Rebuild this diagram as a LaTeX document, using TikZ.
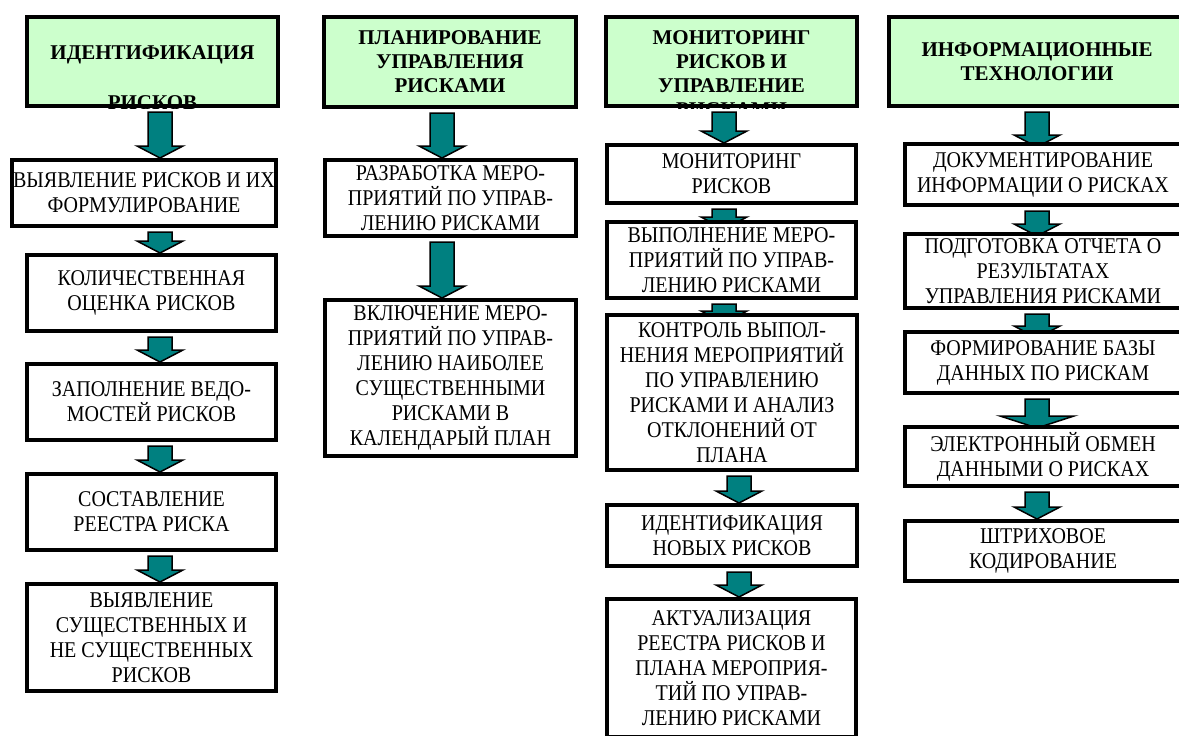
\documentclass[tikz,border=0pt]{standalone}
\usepackage{fontspec}
\setmainfont{Liberation Serif}[FakeStretch=0.89]
\newfontfamily\hdfont{Liberation Serif}
\usepackage{tikz}
\usetikzlibrary{calc,backgrounds}
\definecolor{hdgreen}{RGB}{204,255,204}
\definecolor{arrteal}{RGB}{0,128,128}

% block arrow: [head half-width]{x}{upper node}{lower node}{tip below lower.north}
\newcommand{\darr}[5][23]{%
  \path (#2,0 |- #3.south) coordinate (aT) (#2,0 |- #4.north) coordinate (aB);
  \filldraw[arrowfill] ($(aT)+(-12,4)$) -- ($(aT)+(12,4)$) -- ($(aB)+(12,#5-12)$)
    -- ($(aB)+(#1,#5-12)$) -- ($(aB)+(0,#5)$) -- ($(aB)+(-#1,#5-12)$)
    -- ($(aB)+(-12,#5-12)$) -- cycle;
}

\begin{document}
\begin{tikzpicture}[x=1pt, y=-1pt,
    font=\rmfamily\fontsize{22.5}{25}\selectfont,
    box/.style={draw, line width=4pt, fill=white, align=center, inner sep=0pt,
                execute at begin node={\rule{0pt}{21pt}}},
    head/.style={draw, line width=4pt, fill=hdgreen, align=center, inner sep=0pt},
    hfont/.style={font=\hdfont\fontsize{21}{24}\selectfont\bfseries},
    htext/.style={hfont, align=center, inner sep=0pt},
    arrowfill/.style={fill=arrteal, draw=black, line width=1.5pt, line join=miter},
  ]
  \useasboundingbox (0,0) rectangle (1179,736);
  \clip (0,0) rectangle (1179,736);

  % headers
  \node[head, minimum width=251pt, minimum height=89pt] (hdI) at (152.5,61.5) {};
  \begin{scope}
    \clip (hdI.south west) rectangle (hdI.north east);
    \node[htext] (txI) at (152.5,78) {ИДЕНТИФИКАЦИЯ\\[26pt]РИСКОВ};
  \end{scope}
  \node[head, hfont, minimum width=252pt, minimum height=90pt] (hdP) at (450,62) {ПЛАНИРОВАНИЕ\\УПРАВЛЕНИЯ\\РИСКАМИ};
  \node[head, minimum width=251pt, minimum height=89pt] (hdM) at (731.5,61.5) {};
  \begin{scope}
    \clip (hdM.south west) rectangle (hdM.north east);
    \node[htext] (txM) at (731.5,74) {МОНИТОРИНГ\\РИСКОВ И\\УПРАВЛЕНИЕ\\РИСКАМИ};
  \end{scope}
  \node[head, hfont, minimum width=296pt, minimum height=89pt] (hdT) at (1037,61.5) {ИНФОРМАЦИОННЫЕ\\ТЕХНОЛОГИИ};

  % column 1
  \node[box, minimum width=264pt, minimum height=66pt] (a1) at (144,193) {ВЫЯВЛЕНИЕ РИСКОВ И ИХ\\ФОРМУЛИРОВАНИЕ};
  \node[box, minimum width=249pt, minimum height=76pt] (a2) at (151.5,293) {КОЛИЧЕСТВЕННАЯ\\ОЦЕНКА РИСКОВ};
  \node[box, minimum width=249pt, minimum height=76pt] (a3) at (151.5,402) {ЗАПОЛНЕНИЕ ВЕДО-\\МОСТЕЙ РИСКОВ};
  \node[box, minimum width=249pt, minimum height=76pt] (a4) at (151.5,512) {СОСТАВЛЕНИЕ\\РЕЕСТРА РИСКА};
  \node[box, minimum width=249pt, minimum height=107pt] (a5) at (151.5,637.5) {ВЫЯВЛЕНИЕ\\СУЩЕСТВЕННЫХ И\\НЕ СУЩЕСТВЕННЫХ\\РИСКОВ};

  % column 2
  \node[box, minimum width=251pt, minimum height=76pt] (b1) at (450.5,198) {РАЗРАБОТКА МЕРО-\\ПРИЯТИЙ ПО УПРАВ-\\ЛЕНИЮ РИСКАМИ};
  \node[box, minimum width=251pt, minimum height=156pt] (b2) at (450.5,378) {ВКЛЮЧЕНИЕ МЕРО-\\ПРИЯТИЙ ПО УПРАВ-\\ЛЕНИЮ НАИБОЛЕЕ\\СУЩЕСТВЕННЫМИ\\РИСКАМИ В\\КАЛЕНДАРЫЙ ПЛАН};

  % column 3
  \node[box, minimum width=249pt, minimum height=58pt] (c1) at (731.5,174) {МОНИТОРИНГ\\РИСКОВ};
  \node[box, minimum width=249pt, minimum height=76pt] (c2) at (731.5,260) {ВЫПОЛНЕНИЕ МЕРО-\\ПРИЯТИЙ ПО УПРАВ-\\ЛЕНИЮ РИСКАМИ};
  \node[box, minimum width=250pt, minimum height=155pt] (c3) at (732,392.5) {КОНТРОЛЬ ВЫПОЛ-\\НЕНИЯ МЕРОПРИЯТИЙ\\ПО УПРАВЛЕНИЮ\\РИСКАМИ И АНАЛИЗ\\ОТКЛОНЕНИЙ ОТ\\ПЛАНА};
  \node[box, minimum width=250pt, minimum height=61pt] (c4) at (732,535.5) {ИДЕНТИФИКАЦИЯ\\НОВЫХ РИСКОВ};
  \node[box, minimum width=249pt, minimum height=138pt] (c5) at (731.5,668) {АКТУАЛИЗАЦИЯ\\РЕЕСТРА РИСКОВ И\\ПЛАНА МЕРОПРИЯ-\\ТИЙ ПО УПРАВ-\\ЛЕНИЮ РИСКАМИ};

  % column 4
  \node[box, minimum width=276pt, minimum height=61pt] (d1) at (1043,174.5) {ДОКУМЕНТИРОВАНИЕ\\ИНФОРМАЦИИ О РИСКАХ};
  \node[box, minimum width=276pt, minimum height=74pt] (d2) at (1043,271) {ПОДГОТОВКА ОТЧЕТА О\\РЕЗУЛЬТАТАХ\\УПРАВЛЕНИЯ РИСКАМИ};
  \node[box, minimum width=276pt, minimum height=61pt] (d3) at (1043,362.5) {ФОРМИРОВАНИЕ БАЗЫ\\ДАННЫХ ПО РИСКАМ};
  \node[box, minimum width=276pt, minimum height=59pt] (d4) at (1043,456.5) {ЭЛЕКТРОННЫЙ ОБМЕН\\ДАННЫМИ О РИСКАХ};
  \node[box, minimum width=276pt, minimum height=60pt] (d5) at (1043,551) {ШТРИХОВОЕ\\КОДИРОВАНИЕ};

  % arrows behind the boxes
  \begin{scope}[on background layer]
    \darr{160}{hdI}{a1}{0}
    \darr{160}{a1}{a2}{0}
    \darr{160}{a2}{a3}{0}
    \darr{160}{a3}{a4}{0}
    \darr{160}{a4}{a5}{0}
    \darr{442}{hdP}{b1}{0}
    \darr{442}{b1}{b2}{0}
    \darr{724}{hdM}{c1}{0}
    \darr{724}{c1}{c2}{9}
    \darr{724}{c2}{c3}{10}
    \darr{739}{c3}{c4}{0}
    \darr{739}{c4}{c5}{0}
    \darr{1037}{hdT}{d1}{5}
    \darr{1037}{d1}{d2}{4}
    \darr{1037}{d2}{d3}{8}
    \darr[37]{1037}{d3}{d4}{3}
    \darr{1037}{d4}{d5}{0}
  \end{scope}
\end{tikzpicture}
\end{document}
